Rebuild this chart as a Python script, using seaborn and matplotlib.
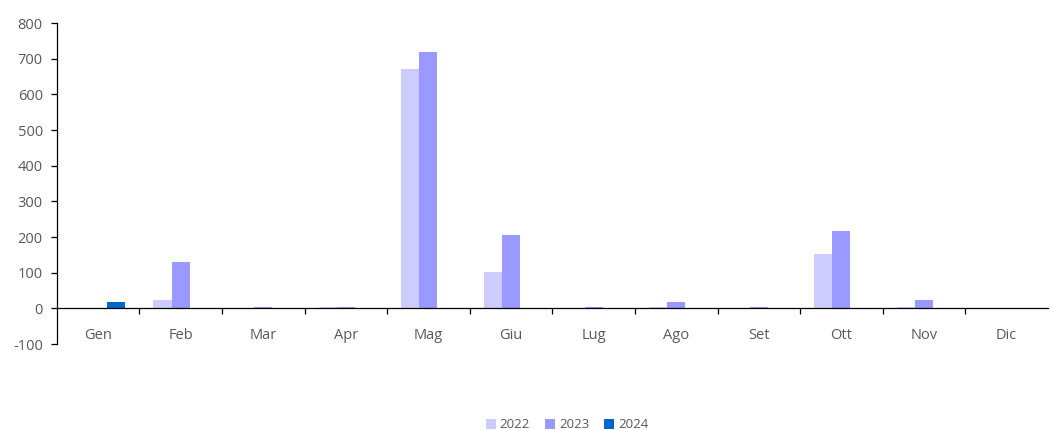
"""Monthly bars by year (2022-2024), grouped by month."""

import matplotlib

matplotlib.use("Agg")

import matplotlib.pyplot as plt
import pandas as pd
import seaborn as sns
from matplotlib.patches import Patch


MONTHS = ["Gen", "Feb", "Mar", "Apr", "Mag", "Giu", "Lug", "Ago", "Set", "Ott", "Nov", "Dic"]
YEARS = ["2022", "2023", "2024"]
VALUES_2022 = [0, 23, 0, 5, 672, 102, 0, 5, 0, 152, 5, 0]
VALUES_2023 = [0, 129, 5, 5, 720, 207, 5, 17, 5, 218, 24, -3]
VALUES_2024 = [17, 0, 0, 0, 0, 0, 0, 0, 0, 0, 0, 0]
COLORS = {"2022": "#CCCCFF", "2023": "#9999FF", "2024": "#0066CC"}
TEXT_COLOR = "#595959"


def build_frame() -> pd.DataFrame:
	frame = pd.DataFrame({
		"month": MONTHS * 3,
		"year": [YEARS[0]] * 12 + [YEARS[1]] * 12 + [YEARS[2]] * 12,
		"value": VALUES_2022 + VALUES_2023 + VALUES_2024,
	})
	return frame


def main() -> None:
	sns.set_theme(style="white")
	plt.rcParams["font.family"] = ["Open Sans", "DejaVu Sans"]
	plt.rcParams["axes.unicode_minus"] = False

	frame = build_frame()
	fig = plt.figure(figsize=(10.5, 4.3), dpi=100)
	ax = fig.add_axes([0.054, 0.2, 0.944, 0.7465])

	sns.barplot(
		data=frame, x="month", y="value", hue="year",
		order=MONTHS, hue_order=YEARS, palette=COLORS,
		width=0.66, ax=ax, legend=False, errorbar=None,
		saturation=1, linewidth=0,
	)

	ax.set_ylim(-100, 800)
	ax.set_xlim(-0.5, len(MONTHS) - 0.5)
	ax.set_yticks(range(-100, 801, 100))
	ax.set_xlabel("")
	ax.set_ylabel("")

	for side in ["top", "right"]:
		ax.spines[side].set_visible(False)
	ax.spines["left"].set_color("black")
	ax.spines["left"].set_linewidth(0.9)
	ax.spines["bottom"].set_position(("data", 0))
	ax.spines["bottom"].set_color("black")
	ax.spines["bottom"].set_linewidth(0.9)

	ax.set_xticks([i - 0.5 for i in range(1, len(MONTHS))], minor=True)
	ax.tick_params(axis="x", which="major", length=0, pad=14, labelsize=10.5, labelcolor=TEXT_COLOR)
	ax.tick_params(axis="x", which="minor", length=4, width=0.9, color="black", direction="out", bottom=True)
	ax.tick_params(axis="y", which="major", length=4, width=0.9, color="black", direction="out",
		left=True, labelsize=10.5, labelcolor=TEXT_COLOR, pad=6)

	handles = [Patch(facecolor=COLORS[year], edgecolor="none", label=year) for year in YEARS]
	fig.legend(
		handles=handles, loc="lower center", bbox_to_anchor=(0.54, -0.031), ncol=3,
		frameon=False, fontsize=9.5, handlelength=0.75, handleheight=0.75,
		handletextpad=0.3, columnspacing=1.15, labelcolor=TEXT_COLOR,
	)

	fig.savefig("out.png", dpi=100)
	plt.close(fig)


if __name__ == "__main__":
	main()
